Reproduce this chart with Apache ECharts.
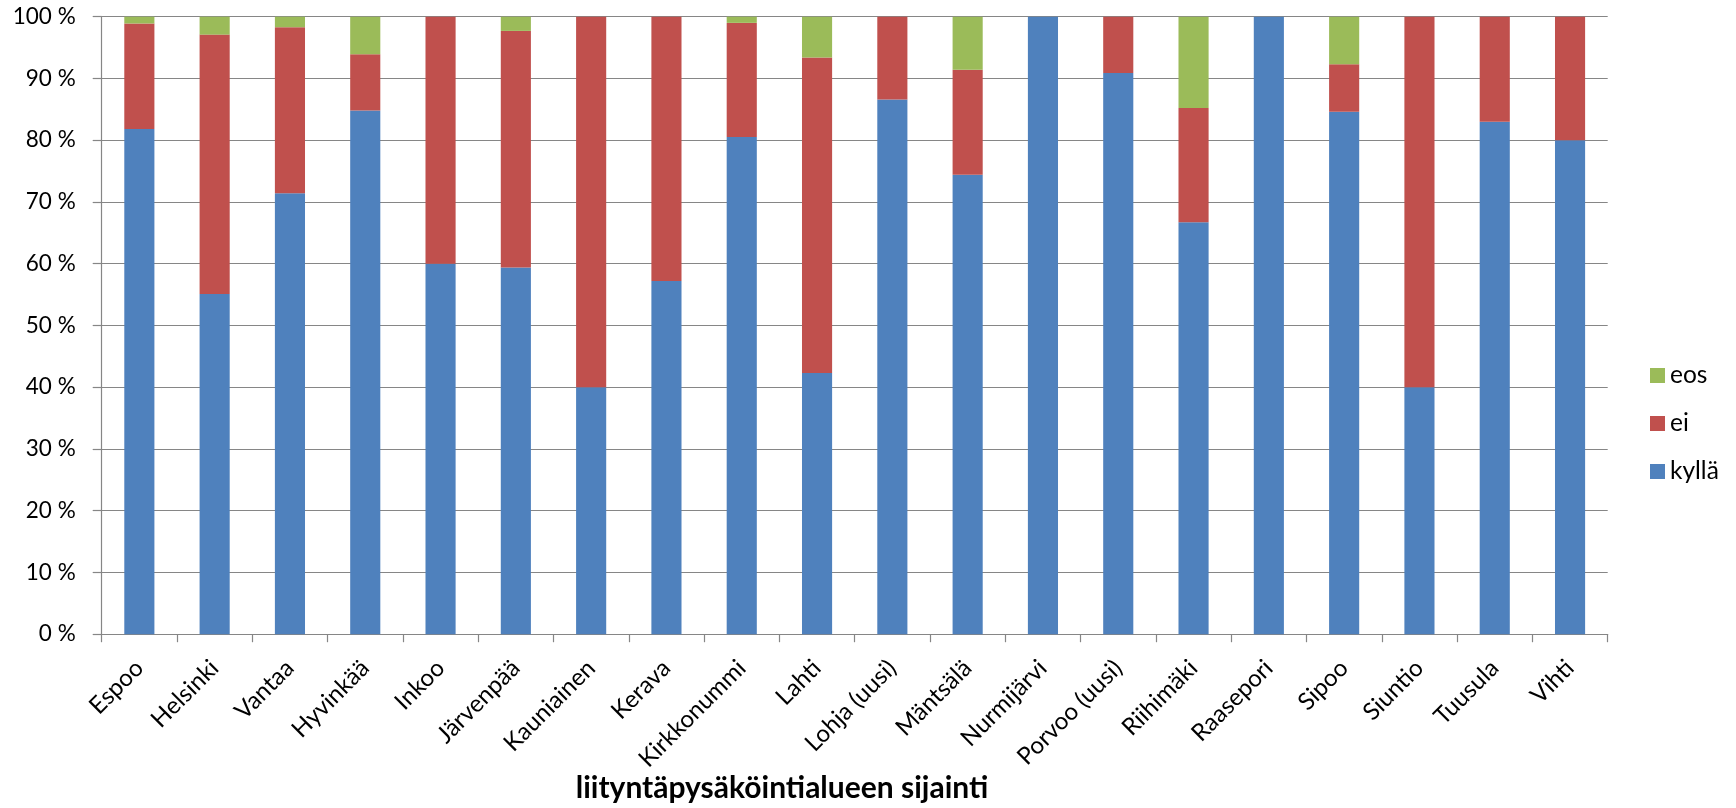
<!DOCTYPE html>
<html>
<head>
<meta charset="utf-8">
<script src="https://cdn.jsdelivr.net/npm/echarts@6/dist/echarts.min.js"></script>
<style>
  html, body { margin: 0; padding: 0; background: #ffffff; }
  #chart { width: 1736px; height: 808px; }
</style>
</head>
<body>
<div id="chart"></div>
<script>
const categories = ['Espoo', 'Helsinki', 'Vantaa', 'Hyvinkää', 'Inkoo', 'Järvenpää', 'Kauniainen', 'Kerava', 'Kirkkonummi', 'Lahti', 'Lohja (uusi)', 'Mäntsälä', 'Nurmijärvi', 'Porvoo (uusi)', 'Riihimäki', 'Raasepori', 'Sipoo', 'Siuntio', 'Tuusula', 'Vihti'];
const kylla = [81.8, 55.1, 71.4, 84.8, 60, 59.4, 40, 57.2, 80.5, 42.3, 86.6, 74.4, 100, 90.9, 66.7, 100, 84.6, 40, 83.0, 80];
const ei    = [17.1, 42.0, 26.9, 9.1, 40, 38.3, 60, 42.8, 18.5, 51.1, 13.4, 17.0, 0, 9.1, 18.5, 0, 7.7, 60, 17.0, 20];
const eos   = [1.1, 2.9, 1.7, 6.1, 0, 2.3, 0, 0, 1.0, 6.6, 0, 8.6, 0, 0, 14.8, 0, 7.7, 0, 0, 0];
const seriesNames = ['kyllä', 'ei', 'eos'];
const legendOrder = ['eos', 'ei', 'kyllä'];
const axisTitle = 'liityntäpysäköintialueen sijainti';

const FONT = 'Lato';
const gridColor = '#868686';

function bar(name, data, color) {
  return {
    name: name,
    type: 'bar',
    stack: 'total',
    barWidth: '40%',
    data: data,
    itemStyle: { color: color },
    emphasis: { disabled: true }
  };
}

function draw() {
  const chart = echarts.init(document.getElementById('chart'), null, { renderer: 'canvas' });
  chart.setOption({
    animation: false,
    backgroundColor: '#ffffff',
    textStyle: { fontFamily: FONT },
    title: {
      text: axisTitle,
      left: 777,
      top: 768,
      textAlign: 'center',
      textStyle: { fontFamily: FONT, fontSize: 30, fontWeight: 'bold', color: '#000000' }
    },
    legend: {
      orient: 'vertical',
      left: 1645,
      top: 358,
      itemWidth: 15,
      itemHeight: 15,
      itemGap: 23,
      icon: 'rect',
      data: legendOrder,
      textStyle: { fontFamily: FONT, fontSize: 24.5, color: '#000000' }
    },
    grid: {
      left: 101.7,
      right: 128.3,
      top: 16.7,
      bottom: 173.8,
      containLabel: false
    },
    xAxis: {
      type: 'category',
      data: categories,
      axisLine: { show: true, lineStyle: { color: gridColor, width: 1.2 } },
      axisTick: { show: true, length: 8, lineStyle: { color: gridColor, width: 1.2 } },
      axisLabel: {
        interval: 0,
        rotate: 45,
        margin: 30,
        fontFamily: FONT,
        fontSize: 24,
        color: '#000000'
      },
      splitLine: { show: false }
    },
    yAxis: {
      type: 'value',
      min: 0,
      max: 100,
      interval: 10,
      axisLine: { show: true, lineStyle: { color: gridColor, width: 1.2 } },
      axisTick: { show: true, length: 9, lineStyle: { color: gridColor, width: 1.2 } },
      axisLabel: {
        formatter: '{value} %',
        margin: 26,
        fontFamily: FONT,
        fontSize: 22.5,
        color: '#000000'
      },
      splitLine: { show: true, lineStyle: { color: gridColor, width: 1.2 } }
    },
    series: [
      bar(seriesNames[0], kylla, '#4F81BD'),
      bar(seriesNames[1], ei, '#C0504D'),
      bar(seriesNames[2], eos, '#9BBB59')
    ]
  });
}

if (document.fonts && document.fonts.load) {
  Promise.all([document.fonts.load('24px Lato'), document.fonts.load('bold 30px Lato')])
    .then(draw, draw);
} else {
  draw();
}
</script>
</body>
</html>
